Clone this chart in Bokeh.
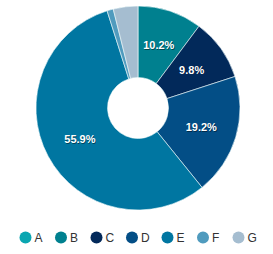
import math
from bokeh.plotting import figure
from bokeh.models import ColumnDataSource
from bokeh.core.properties import value
from bokeh.embed import file_html
from bokeh.resources import INLINE

categories = ["A", "B", "C", "D", "E", "F", "G"]
shares = [0.0, 10.2, 9.8, 19.2, 55.9, 1.0, 3.9]
colors = ["#0aa6b1", "#00808f", "#02295a", "#034e86", "#0076a1", "#509bbe", "#a5bdd0"]

W, H = 273, 254
cx, cy = 137.5, H - 107.5
r_out, r_in, r_lab = 102, 30.5, 66

total = sum(shares)
starts, ends, lx, ly, labels = [], [], [], [], []
acc = 0.0
for s in shares:
    a0 = math.pi / 2 - 2 * math.pi * acc / total
    acc += s
    a1 = math.pi / 2 - 2 * math.pi * acc / total
    starts.append(a0)
    ends.append(a1)
    mid = (a0 + a1) / 2
    lx.append(cx + r_lab * math.cos(mid))
    ly.append(cy + r_lab * math.sin(mid))
    labels.append(f"{s:.1f}%" if s >= 5 else "")

src = ColumnDataSource(dict(cat=categories, start=starts, end=ends, color=colors,
                            lx=lx, ly=ly, label=labels))

p = figure(width=W, height=H, x_range=(0, W), y_range=(0, H),
           output_backend="svg", toolbar_location=None, min_border=0)
p.axis.visible = False
p.grid.visible = False
p.outline_line_color = None
p.background_fill_color = "white"

p.annular_wedge(x=cx, y=cy, inner_radius=r_in, outer_radius=r_out,
                start_angle="start", end_angle="end", direction="clock",
                fill_color="color", line_color="white", line_width=0.6, source=src)

# soft shadow behind the data labels
p.text(x="lx", y="ly", text="label", source=src, text_align="center",
       text_baseline="middle", text_color="black", text_alpha=0.45,
       x_offset=0.8, y_offset=0.8, text_font=value("Liberation Sans"),
       text_font_size="11px", text_font_style="bold")
p.text(x="lx", y="ly", text="label", source=src, text_align="center",
       text_baseline="middle", text_color="white", text_font=value("Liberation Sans"),
       text_font_size="11px", text_font_style="bold")

# legend
leg_y = H - 237
lgx = [25 + 35.5 * i for i in range(len(categories))]
lsrc = ColumnDataSource(dict(x=lgx, tx=[v + 9 for v in lgx], y=[leg_y] * len(categories),
                             cat=categories, color=colors))
p.scatter(x="x", y="y", size=12, marker="circle", fill_color="color", line_color=None, source=lsrc)
p.text(x="tx", y="y", text="cat", source=lsrc, text_align="left", text_baseline="middle",
       text_color="#333333", text_font=value("Liberation Sans"), text_font_size="12px")

open("out.html", "w").write(file_html(p, INLINE))
